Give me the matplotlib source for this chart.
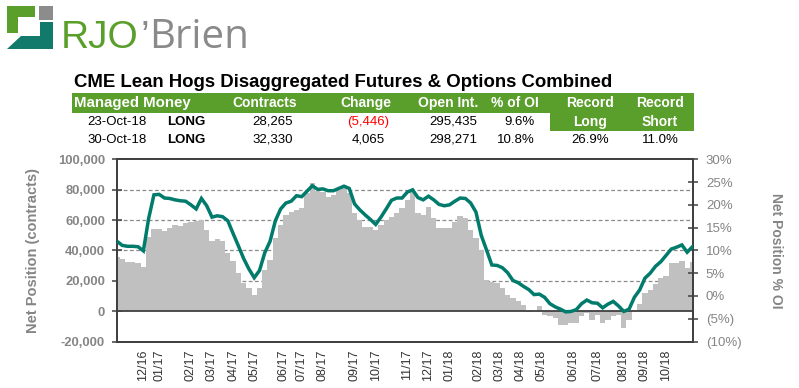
import matplotlib
matplotlib.use("Agg")
import matplotlib.pyplot as plt
from matplotlib.patches import Rectangle, Polygon
import numpy as np

plt.rcParams['font.family'] = ['Liberation Sans', 'DejaVu Sans']

# ---------------- data ----------------
net_position = [35500, 34200, 32500, 32200, 32000, 29000, 48600, 53900, 54300, 52800,
                54500, 56500, 55900, 57800, 58700, 59300, 59800, 53400, 46400, 47700,
                46400, 38600, 32700, 25000, 18500, 15000, 10800, 15200, 27200, 33800,
                48000, 56700, 63300, 65400, 66500, 67700, 77500, 84500, 79200, 78200,
                75300, 76400, 79700, 80800, 78000, 64400, 60000, 55600, 55600, 53400,
                56700, 60000, 62200, 64400, 68000, 73100, 78600, 64400, 63300, 68300,
                61100, 54500, 54500, 54500, 58900, 62800, 61100, 53400, 48000, 40300,
                20700, 19500, 18500, 15200, 10800, 8700, 6400, 4300, -800, -100,
                3100, -2300, -3000, -4500, -8900, -8900, -7700, -7700, -3500, -1500,
                -5600, -2300, -7700, -5600, -3400, -2300, -11000, -5600, 1000, 4900,
                11900, 14000, 18000, 21800, 23300, 31600, 31600, 33000, 28265, 32330]

pct_oi = [12.0, 11.1, 10.9, 10.9, 10.8, 9.9, 17.0, 22.2, 22.3, 21.5,
          21.4, 21.1, 20.9, 20.8, 20.0, 19.1, 21.4, 19.8, 17.3, 17.6,
          17.4, 16.5, 13.7, 11.0, 8.2, 5.9, 4.0, 5.6, 9.5, 12.0,
          16.5, 19.1, 20.4, 20.8, 22.0, 21.8, 23.0, 24.2, 23.4, 23.5,
          23.1, 23.1, 23.6, 24.1, 23.6, 20.2, 18.9, 17.8, 16.8, 15.7,
          17.3, 19.1, 21.0, 21.5, 21.5, 22.8, 23.3, 21.6, 21.1, 21.9,
          21.1, 20.1, 19.8, 20.0, 20.8, 21.5, 21.4, 20.4, 18.4, 13.3,
          10.1, 6.8, 6.7, 6.2, 5.1, 3.4, 2.9, 2.1, 1.4, 0.3,
          0.4, -0.3, -1.7, -2.4, -2.9, -3.5, -3.4, -3.0, -1.7, -0.9,
          -1.5, -1.6, -2.6, -1.8, -1.2, -2.2, -3.4, -2.9, -0.3, 1.3,
          3.9, 5.0, 6.5, 7.5, 8.9, 10.3, 10.7, 11.2, 9.6, 10.8]

tick_labels = ['12/16', '01/17', '02/17', '03/17', '04/17', '05/17', '06/17', '07/17',
               '08/17', '09/17', '10/17', '11/17', '12/17', '01/18', '02/18', '03/18',
               '04/18', '05/18', '06/18', '07/18', '08/18', '09/18', '10/18']
tick_weeks = [5, 8, 14, 18, 22, 26, 31.5, 35, 39, 45, 49, 55, 59, 63, 68.5, 72.5,
              76.5, 80.5, 86.5, 91, 96, 100, 104]

header = ['Managed Money', 'Contracts', 'Change', 'Open Int.', '% of OI', 'Record', 'Record']
row_dates = ['23-Oct-18', '30-Oct-18']
row_side = ['LONG', 'LONG']
row_contracts = ['28,265', '32,330']
row_change = ['(5,446)', '4,065']
row_oi = ['295,435', '298,271']
row_pct = ['9.6%', '10.8%']
record_long = '26.9%'
record_short = '11.0%'

GREEN = '#5a9e2b'
TEAL = '#007b6c'
GRAYTXT = '#858585'
AXC = '#404040'

W, H = 799, 388
fig = plt.figure(figsize=(W / 100, H / 100), dpi=100)

# ---------------- overlay (pixel coordinates) ----------------
ov = fig.add_axes([0, 0, 1, 1])
ov.set_xlim(0, W)
ov.set_ylim(H, 0)
ov.axis('off')

# logo icon
ov.add_patch(Rectangle((7, 6), 28, 27, color=GREEN, lw=0))
ov.add_patch(Rectangle((18, 17), 18, 17, color='white', lw=0))
ov.add_patch(Rectangle((39, 6), 14, 14, color='#8c8c8c', lw=0))
ov.add_patch(Polygon([(40, 22), (53, 22), (53, 49), (7, 49), (21, 36), (40, 36)],
                     closed=True, color='#127a6a', lw=0))
ov.text(61, 48, 'RJO', color=GREEN, fontsize=28, va='baseline', ha='left')
ov.text(141, 48, '\u2019', color='#8a8a8a', fontsize=28, va='baseline', ha='left')
ov.text(149, 48, 'Brien', color='#8a8a8a', fontsize=29, va='baseline', ha='left',
        family=['Open Sans', 'Liberation Sans'])

# title
ov.text(74, 87, 'CME Lean Hogs Disaggregated Futures & Options Combined',
        fontsize=13.4, fontweight='bold', color='black', va='baseline', ha='left')

# table backgrounds
ov.add_patch(Rectangle((72, 93), 622, 20, color=GREEN, lw=0))
ov.add_patch(Rectangle((550, 112.5), 144, 18.5, color=GREEN, lw=0))

hy = 103
ov.text(74, hy, header[0], color='white', fontsize=10.8, fontweight='bold',
        ha='left', va='center')
hx = [None, 265, 366, 448, 515, 590, 660]
for i in range(1, 7):
    ov.text(hx[i], hy, header[i], color='white', fontsize=10, fontweight='bold',
            ha='center', va='center')
ov.text(590, 122, 'Long', color='white', fontsize=10, fontweight='bold', ha='center', va='center')
ov.text(660, 122, 'Short', color='white', fontsize=10, fontweight='bold', ha='center', va='center')

for r, y in enumerate([122, 140]):
    ov.text(117, y, row_dates[r], fontsize=9.5, ha='center', va='center')
    ov.text(186, y, row_side[r], fontsize=9.5, fontweight='bold', ha='center', va='center')
    ov.text(273, y, row_contracts[r], fontsize=9.5, ha='center', va='center')
    ov.text(368, y, row_change[r], fontsize=9.5, ha='center', va='center',
            color='red' if row_change[r].startswith('(') else 'black')
    ov.text(453, y, row_oi[r], fontsize=9.5, ha='center', va='center')
    ov.text(535, y, row_pct[r], fontsize=9.5, ha='right', va='center')
ov.text(590, 140, record_long, fontsize=9.5, ha='center', va='center')
ov.text(660, 140, record_short, fontsize=9.5, ha='center', va='center')

# ---------------- chart ----------------
x0, x1 = 116.7, 692.7
ytop, ybot = 159.3, 341.5
ax = fig.add_axes([x0 / W, 1 - ybot / H, (x1 - x0) / W, (ybot - ytop) / H])
ax.patch.set_alpha(0)
n = len(net_position)
xs = np.arange(n)
ax.bar(xs, net_position, width=1.0, color='#c0c0c0', lw=0, zorder=2)
for g in [20000, 40000, 60000, 80000]:
    ax.axhline(g, color='#8a8a8a', lw=0.9, ls=(0, (3, 2)), zorder=1)
ax.axhline(0, color=AXC, lw=1.3, zorder=3)
ax.set_xlim(-0.05, n - 1 + 0.05)
ax.set_ylim(-20000, 100000)
ax.set_yticks(range(-20000, 100001, 20000))
ax.set_yticklabels([f'{v:,}' for v in range(-20000, 100001, 20000)],
                   color=GRAYTXT, fontweight='bold', fontsize=9.4)
ax.tick_params(axis='y', direction='inout', length=7, width=1.1, color=AXC, pad=5)
ax.set_xticks(tick_weeks)
ax.set_xticklabels(tick_labels, rotation=90, fontsize=9, color='#333333')
ax.tick_params(axis='x', length=0, pad=6)
for s in ax.spines.values():
    s.set_color(AXC)
    s.set_linewidth(1.3)
ax.set_ylabel('Net Position (contracts)', color=GRAYTXT, fontweight='bold', fontsize=10.5,
              labelpad=13)

ax2 = ax.twinx()
ax2.plot(xs, pct_oi, color=TEAL, lw=2.5, zorder=5, solid_joinstyle='miter')
ax2.set_ylim(-10, 30)
ax2.set_xlim(-0.05, n - 1 + 0.05)
rticks = list(range(-10, 31, 5))
ax2.set_yticks(rticks)
ax2.set_yticklabels([f'({-v}%)' if v < 0 else f'{v}%' for v in rticks],
                    color=GRAYTXT, fontsize=9.5)
ax2.tick_params(axis='y', direction='inout', length=7, width=1.1, color=AXC, pad=6)
for s in ax2.spines.values():
    s.set_color(AXC)
    s.set_linewidth(1.3)
ax2.set_ylabel('Net Position % OI', color=GRAYTXT, fontweight='bold', fontsize=10,
               rotation=-90, labelpad=30)

fig.savefig('out.png', dpi=100)
